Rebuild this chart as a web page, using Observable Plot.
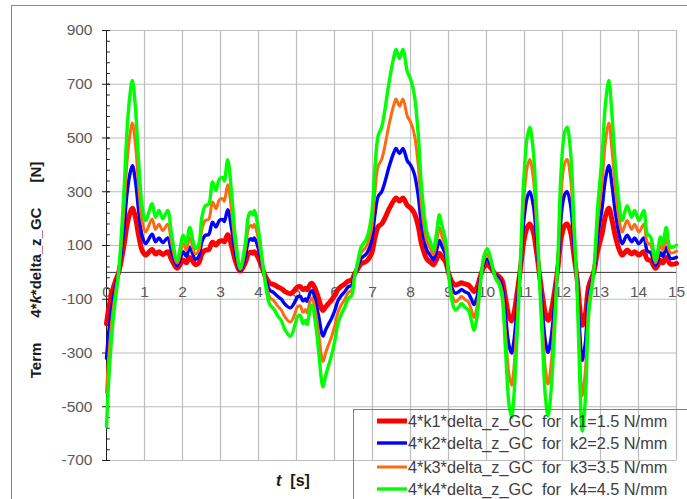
<!DOCTYPE html>
<html><head><meta charset="utf-8">
<script src="https://cdn.jsdelivr.net/npm/d3@7"></script>
<script src="https://cdn.jsdelivr.net/npm/@observablehq/plot@0.6"></script>
<style>
html,body{margin:0;padding:0;background:#fff;}
#chart{position:relative;width:687px;height:499px;overflow:hidden;font-family:"Liberation Sans",Arial,sans-serif;}
#frame{position:absolute;left:11px;top:5px;width:720px;height:540px;border:1px solid #868686;box-sizing:border-box;pointer-events:none;}
#chart svg{position:absolute;left:0;top:0;}
</style></head><body><div id="chart"><div id="frame"></div></div>
<script>
// time [s]
const tValues = [0,0.06,0.15,0.24,0.32,0.46,0.54,0.61,0.68,0.76,0.85,0.94,1.03,1.2,1.29,1.38,1.48,1.61,1.71,1.86,2.02,2.1,2.19,2.34,2.43,2.51,2.6,2.69,2.79,2.88,2.97,3.06,3.1,3.19,3.3,3.39,3.52,3.65,3.74,3.8,3.85,3.89,4.0,4.1,4.2,4.3,4.4,4.5,4.6,4.7,4.84,4.97,5.02,5.1,5.17,5.24,5.28,5.37,5.41,5.5,5.58,5.67,5.7,5.77,5.83,5.92,6.01,6.09,6.18,6.27,6.36,6.45,6.53,6.62,6.7,6.84,6.97,7.06,7.15,7.24,7.32,7.43,7.56,7.62,7.71,7.8,7.92,8.0,8.1,8.2,8.3,8.43,8.52,8.6,8.68,8.76,8.83,8.92,9.0,9.09,9.18,9.27,9.34,9.43,9.52,9.6,9.67,9.75,9.84,9.93,10.02,10.1,10.24,10.32,10.41,10.5,10.59,10.66,10.72,10.81,10.89,10.98,11.07,11.14,11.23,11.32,11.4,11.49,11.55,11.62,11.7,11.79,11.88,11.96,12.05,12.12,12.21,12.3,12.39,12.45,12.52,12.6,12.69,12.82,12.93,13.04,13.13,13.22,13.3,13.39,13.48,13.57,13.7,13.82,13.9,14.01,14.14,14.23,14.32,14.45,14.58,14.64,14.73,14.84,15.0];
// delta_z_GC [mm]
const deltaZ = [-31.9,-22.2,-12.0,-5.1,0,16.9,29.3,36.2,39.7,34.2,22.4,13.5,10.7,14.2,11.4,12.8,11.1,12.8,8.0,2.5,7.7,5.9,9.3,4.9,5.9,11.4,13.8,14.1,18.7,16.9,19.3,19.6,18.9,23.3,15.6,7.3,0.8,5.9,11.8,12.5,11.9,12.8,8.7,2.5,-3.3,-6.7,-7.5,-8.9,-10.0,-11.9,-13.2,-10.6,-9.2,-8.9,-10.6,-9.9,-10.8,-7.2,-6.8,-10.6,-16.1,-22.9,-23.7,-21.3,-19.6,-17.2,-14.1,-10.6,-8.6,-7.2,-5.4,-4.8,-0.9,2.5,5.2,6.9,11.4,21.1,28.3,30.0,33.3,39.0,44.5,46.1,44.2,46.1,41.4,40.0,36.7,28.9,16.7,8.3,6.4,4.7,7.8,11.9,9.6,6.7,-0.2,-5.8,-7.8,-7.2,-6.4,-7.2,-7.8,-9.9,-12.0,-9.2,-2.3,3.3,4.9,3.2,-1.3,-2.3,-5.1,-16.1,-27.1,-30.0,-25.7,-12.0,1.8,19.0,27.9,30.0,25.2,12.1,-2.3,-17.5,-25.7,-29.7,-24.4,-12.0,3.2,20.4,28.7,30.0,25.2,10.7,-5.1,-21.1,-32.8,-26.4,-8.6,0,13.9,23.8,34.8,39.7,32.8,22.4,14.9,10.7,13.8,11.4,12.8,10.7,12.8,8.0,7.3,2.5,7.3,5.9,9.3,5.2,5.6];
// spring rates [N/mm]
const kValues = [1.5, 2.5, 3.5, 4.5];
const seriesNames = [
  "4*k1*delta_z_GC  for  k1=1.5 N/mm",
  "4*k2*delta_z_GC  for  k2=2.5 N/mm",
  "4*k3*delta_z_GC  for  k3=3.5 N/mm",
  "4*k4*delta_z_GC  for  k4=4.5 N/mm"
];
const xTicks = [0,1,2,3,4,5,6,7,8,9,10,11,12,13,14,15];
const yTicks = [-700,-500,-300,-100,100,300,500,700,900];
const yMinorTicks = d3.range(-700, 901, 40);

const seriesColors = ["#ff0000", "#0000ff", "#ff6a10", "#00ff00"];
const seriesWidths = [5, 3.4, 3, 3.4];

const rows = kValues.flatMap((k, s) => tValues.map((t, i) => ({t, v: 4 * k * deltaZ[i], series: seriesNames[s]})));

const lineMarks = seriesNames.map((name, s) =>
  Plot.line(rows.filter(d => d.series === name), {x: "t", y: "v", stroke: seriesColors[s], strokeWidth: seriesWidths[s], curve: "catmull-rom", strokeLinejoin: "round"})
);

const plot = Plot.plot({
  width: 687, height: 499,
  marginLeft: 106, marginRight: 11, marginTop: 30, marginBottom: 39,
  style: {fontFamily: '"Liberation Sans", Arial, sans-serif', fontSize: "15px", background: "transparent", overflow: "visible"},
  x: {domain: [0, 15], axis: null},
  y: {domain: [-700, 900], axis: null},
  marks: [
    Plot.ruleX(xTicks.filter(d => d > 0), {stroke: "#bdbdbd", strokeWidth: 1.2}),
    Plot.ruleY(yTicks, {stroke: "#bdbdbd", strokeWidth: 1.2}),
    Plot.ruleY([0], {stroke: "#303030", strokeWidth: 1}),
    Plot.ruleX([0], {stroke: "#202020", strokeWidth: 1}),
    Plot.ruleY(yMinorTicks, {x1: 0, x2: 0.1, stroke: "#202020", strokeWidth: 1}),
    Plot.ruleY(yTicks, {x1: -0.105, x2: 0.1, stroke: "#202020", strokeWidth: 1}),
    Plot.axisY(yTicks, {tickSize: 0, tickPadding: 14, fill: "#595959", fontSize: 15.5, label: null, tickFormat: d => String(d)}),
    Plot.text(xTicks, {x: d => d, y: 0, dy: 20, fill: "#595959", fontSize: 15.5, text: d => String(d)}),
    ...lineMarks
  ]
});

document.getElementById("chart").appendChild(plot);
const svg = d3.select(plot);

// axis titles
const yl = svg.append("text")
  .attr("transform", "translate(41,270) rotate(-90)")
  .attr("text-anchor", "middle")
  .attr("font-weight", "bold").attr("font-size", 15).attr("fill", "#1a1a1a")
  .style("white-space", "pre");
yl.append("tspan").text("Term      4*");
yl.append("tspan").attr("font-style", "italic").text("k");
yl.append("tspan").text("*delta_z_GC      [N]");

const xl = svg.append("text")
  .attr("x", 293).attr("y", 486)
  .attr("text-anchor", "middle")
  .attr("font-weight", "bold").attr("font-size", 16).attr("fill", "#1a1a1a")
  .style("white-space", "pre");
xl.append("tspan").attr("font-style", "italic").text("t");
xl.append("tspan").text("  [s]");

// legend
const lg = svg.append("g").attr("text-anchor", "start");
lg.append("rect").attr("x", 353.5).attr("y", 409.5).attr("width", 400).attr("height", 200)
  .attr("fill", "none").attr("stroke", "#7f7f7f").attr("stroke-width", 1);
const legendY = [421, 443, 467, 489];
seriesNames.forEach((name, s) => {
  lg.append("line").attr("x1", 377).attr("x2", 407).attr("y1", legendY[s]).attr("y2", legendY[s])
    .attr("stroke", seriesColors[s]).attr("stroke-width", seriesWidths[s]);
  lg.append("text").attr("x", 408).attr("y", legendY[s]).attr("dy", "0.36em")
    .attr("text-anchor", "start")
    .attr("font-size", 16.3).attr("fill", "#404040").style("white-space", "pre").text(name);
});
</script>
</body></html>
